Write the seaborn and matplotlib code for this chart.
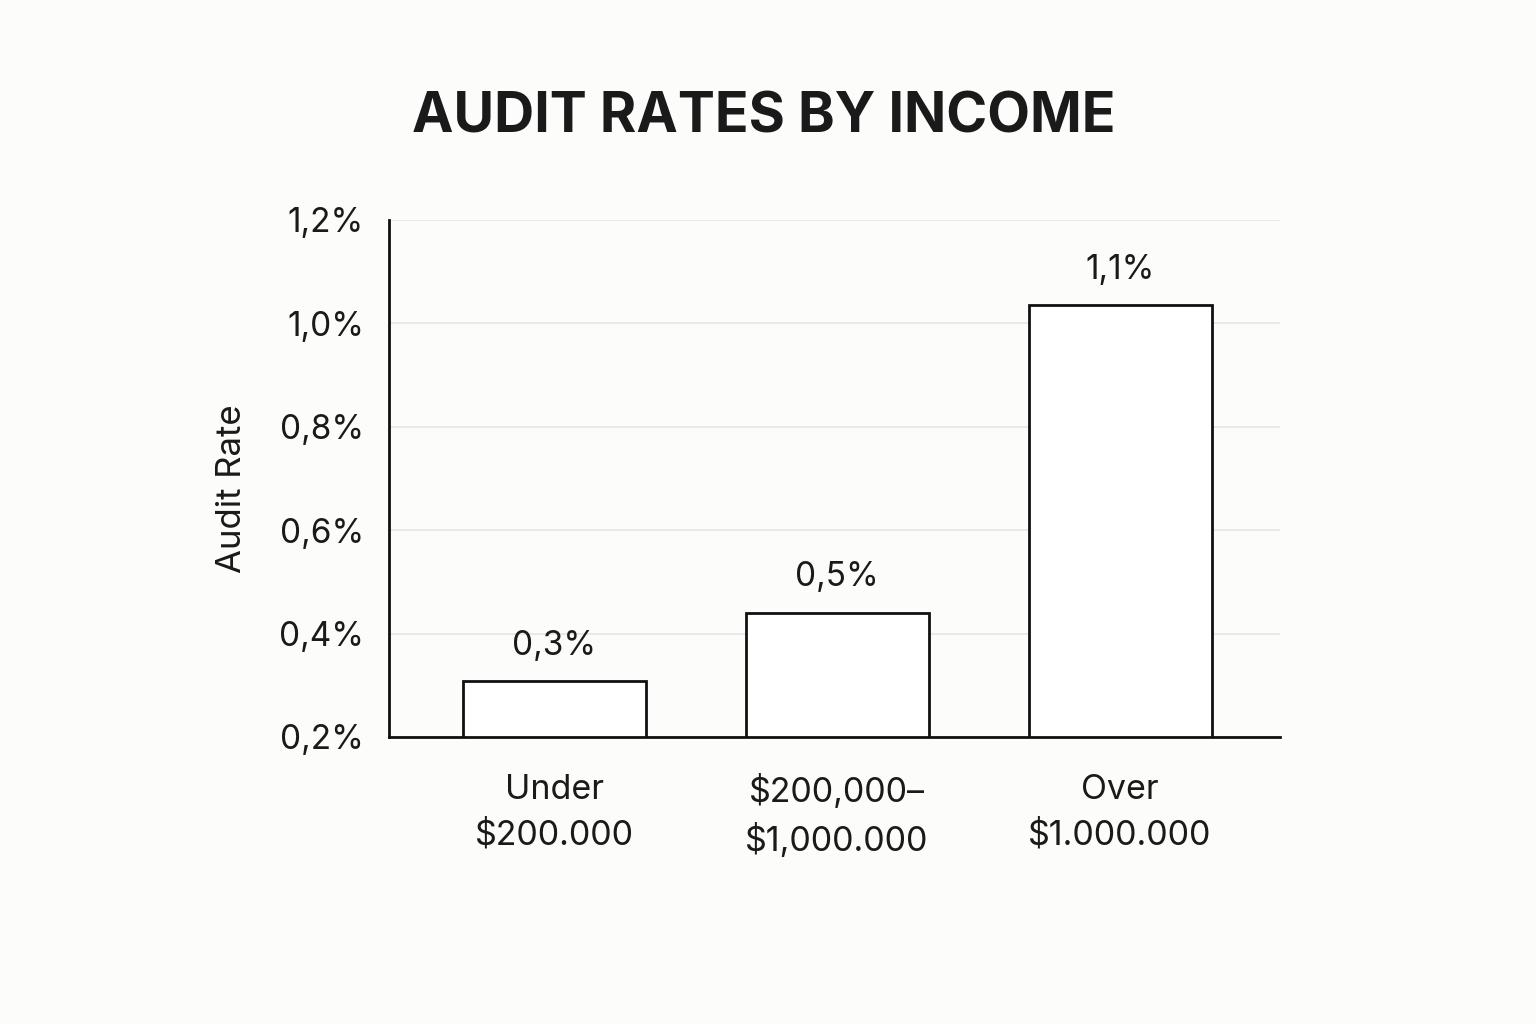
import matplotlib
matplotlib.use("Agg")
import matplotlib.pyplot as plt
import seaborn as sns
import pandas as pd

categories = ["Under\n$200.000", "$200,000\u2013\n$1,000.000", "Over\n$1.000.000"]
audit_rates = [0.308, 0.440, 1.035]
bar_labels = ["0,3%", "0,5%", "1,1%"]
y_ticks = [0.2, 0.4, 0.6, 0.8, 1.0, 1.2]
y_tick_labels = ["0,2%", "0,4%", "0,6%", "0,8%", "1,0%", "1,2%"]
title = "AUDIT RATES BY INCOME"
y_label = "Audit Rate"

sns.set_theme(style="white")
plt.rcParams['font.family'] = ['Inter', 'DejaVu Sans']

bg = "#fcfcfa"
fig = plt.figure(figsize=(15.36, 10.24), dpi=100, facecolor=bg)
ax = fig.add_axes([0.2533, 0.2803, 0.58, 0.5049])
ax.set_facecolor(bg)

df = pd.DataFrame({"category": categories, "rate": audit_rates})
sns.barplot(data=df, x="category", y="rate", ax=ax, color="white",
            edgecolor="#111111", linewidth=2, width=0.647, saturation=1)

ax.set_ylim(0.2, 1.2)
ax.set_xlim(-0.583, 2.565)
ax.set_yticks(y_ticks)
ax.set_yticklabels(y_tick_labels)
ax.yaxis.grid(True, color="#e6e6e6", linewidth=1.2)
ax.set_axisbelow(True)

for s in ["top", "right"]:
    ax.spines[s].set_visible(False)
for s in ["left", "bottom"]:
    ax.spines[s].set_color("#111111")
    ax.spines[s].set_linewidth(2)

ax.tick_params(axis="y", length=0, pad=18, labelsize=24, labelcolor="#1a1a1a")
ax.tick_params(axis="x", length=0, pad=27, labelsize=24.5, labelcolor="#1a1a1a")
for lbl in ax.get_xticklabels():
    lbl.set_horizontalalignment("center")
    lbl.set_multialignment("center")
    lbl.set_linespacing(1.5)

ax.set_xlabel("")
ax.set_ylabel(y_label, fontsize=25, color="#1a1a1a")
ax.yaxis.set_label_coords(-0.158, 0.48)

ax.bar_label(ax.containers[0], labels=bar_labels, padding=14, fontsize=24, color="#1a1a1a")

fig.text(0.497, 0.885, title, ha="center", va="center", fontsize=40,
         fontweight="bold", color="#1a1a1a")

fig.savefig("out.png", dpi=100, facecolor=bg)
